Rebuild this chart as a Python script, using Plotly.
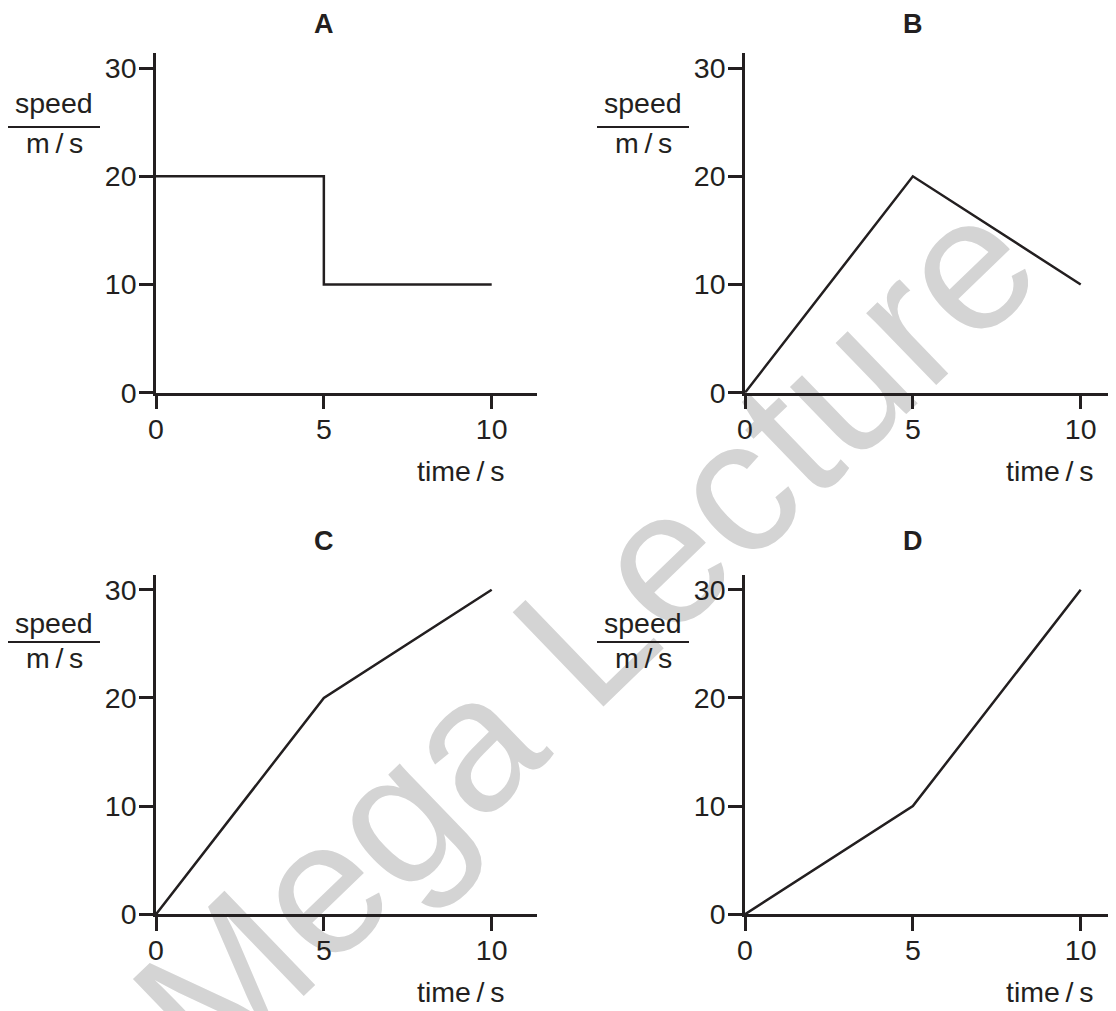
import plotly.graph_objects as go

# data
time_s = [0, 5, 10]
speed_a = [20, 10, 10]   # drawn as a step (drops at t = 5)
speed_b = [0, 20, 10]
speed_c = [0, 20, 30]
speed_d = [0, 10, 30]
panel_names = ['A', 'B', 'C', 'D']
x_ticks = [0, 5, 10]
y_ticks = [0, 10, 20, 30]

# the page body has an 8px margin, so the figure is drawn 8px smaller and
# every reference pixel position is shifted by that offset
PAGE_W, PAGE_H, OFF = 1116, 1011, 8
W, H = PAGE_W - OFF, PAGE_H - OFF
INK = '#231f20'
FONT = 'Liberation Sans, Arial, sans-serif'
FS = 28.5
THIN = '\u2009'


def px_x(p):
    return (p - OFF) / W


def px_y(p):
    return 1 - (p - OFF) / H


# pixel geometry of each panel (reference pixels): left edge, right edge, top, zero line
panels = {
    'A': dict(left=156, right=537, top=53, bottom=392.7, speed_y=113, line_y=127, title_y=24, time_y=471),
    'B': dict(left=745, right=1116, top=53, bottom=392.7, speed_y=113, line_y=127, title_y=24, time_y=471),
    'C': dict(left=156, right=537, top=575, bottom=914.3, speed_y=633, line_y=642, title_y=541, time_y=992),
    'D': dict(left=745, right=1116, top=575, bottom=914.3, speed_y=633, line_y=642, title_y=541, time_y=992),
}
px_per_s = 33.57
px_per_speed = 10.82

fig = go.Figure()
layout = dict(width=W, height=H, margin=dict(l=0, r=0, t=0, b=0, autoexpand=False),
              paper_bgcolor='white', plot_bgcolor='rgba(0,0,0,0)',
              showlegend=False, font=dict(family=FONT, color=INK))
annotations = []
shapes = []

series = {'A': speed_a, 'B': speed_b, 'C': speed_c, 'D': speed_d}

for i, name in enumerate(panel_names):
    p = panels[name]
    n = '' if i == 0 else str(i + 1)
    xr = (p['right'] - p['left']) / px_per_s
    yr = (p['bottom'] - p['top']) / px_per_speed
    axis_common = dict(showline=True, linewidth=2.5, linecolor=INK, ticks='outside',
                       ticklen=14, tickwidth=2.5, tickcolor=INK, showgrid=False,
                       zeroline=False, fixedrange=True, automargin=False,
                       tickfont=dict(size=FS, color=INK, family=FONT))
    layout['xaxis' + n] = dict(axis_common, domain=[px_x(p['left']), px_x(p['right'])],
                               range=[0, xr], tickvals=x_ticks, anchor='y' + n,
                               ticklabelstandoff=-5)
    layout['yaxis' + n] = dict(axis_common, domain=[px_y(p['bottom']), px_y(p['top'])],
                               range=[0, yr], tickvals=y_ticks, anchor='x' + n,
                               ticklabelstandoff=-3)

    fig.add_trace(go.Scatter(x=time_s, y=series[name], mode='lines',
                             line=dict(color=INK, width=2.5, shape='hv' if name == 'A' else 'linear'),
                             xaxis='x' + n, yaxis='y' + n, hoverinfo='skip'))

    # panel letter
    annotations.append(dict(text=f'<b>{name}</b>', x=5, xref='x' + n, y=px_y(p['title_y']), yref='paper',
                            showarrow=False, xanchor='center', yanchor='middle', height=22,
                            font=dict(size=27, color=INK, family=FONT)))
    # x-axis label
    annotations.append(dict(text=f'time{THIN}/{THIN}s', x=px_x(p['left'] + 350), xref='paper',
                            y=px_y(p['time_y']), yref='paper', showarrow=False,
                            xanchor='right', yanchor='middle',
                            font=dict(size=FS, color=INK, family=FONT)))
    # y-axis label written as a fraction
    cx = p['left'] - 102
    annotations.append(dict(text='speed', x=px_x(cx), xref='paper', y=px_y(p['speed_y'] - 10), yref='paper',
                            showarrow=False, xanchor='center', yanchor='middle',
                            font=dict(size=FS, color=INK, family=FONT)))
    annotations.append(dict(text=f'm{THIN}/{THIN}s', x=px_x(cx), xref='paper', y=px_y(p['line_y'] + 16),
                            yref='paper', showarrow=False, xanchor='center', yanchor='middle',
                            font=dict(size=FS, color=INK, family=FONT)))
    shapes.append(dict(type='line', xref='paper', yref='paper',
                       x0=px_x(p['left'] - 148), x1=px_x(p['left'] - 56),
                       y0=px_y(p['line_y']), y1=px_y(p['line_y']),
                       line=dict(color=INK, width=1.8)))

# watermark, kept beneath the graphs
shapes.append(dict(type='rect', xref='paper', yref='paper', layer='below',
                   x0=px_x(472), x1=px_x(672), y0=px_y(720), y1=px_y(520),
                   line=dict(width=0), fillcolor='rgba(0,0,0,0)',
                   label=dict(text='Mega Lecture', textangle=-44, textposition='middle center',
                              font=dict(size=190, color='#d4d4d4', family=FONT))))

layout['annotations'] = annotations
layout['shapes'] = shapes
fig.update_layout(**layout)
fig.write_html('out.html')
